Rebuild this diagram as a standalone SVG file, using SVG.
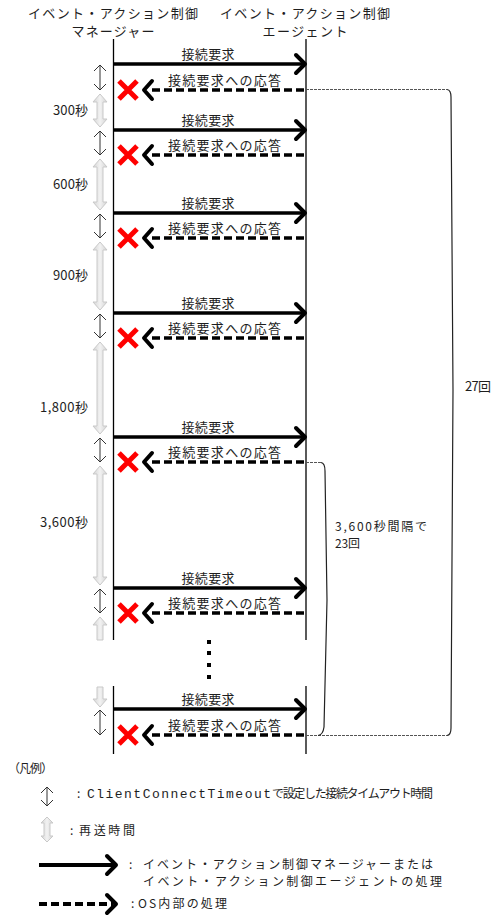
<svg xmlns="http://www.w3.org/2000/svg" width="496" height="917" viewBox="0 0 496 917">
<style>
.t{font-family:"Noto Sans CJK JP","Noto Sans",sans-serif;font-size:13px;fill:#1e1e1e}
.s{font-size:12px}
.m{font-family:"Liberation Mono","Noto Sans CJK JP",monospace}
.life{stroke:#000;stroke-width:1.3}
.sol{stroke:#000;stroke-width:3.5;fill:none}
.dash{stroke:#000;stroke-width:3.5;stroke-dasharray:8 4;fill:none}
.chev{stroke:#000;stroke-width:4;fill:none;stroke-linecap:round;stroke-linejoin:round}
.x{stroke:#f00;stroke-width:5;fill:none}
.to{stroke:#333;stroke-width:1;fill:none}
.gr{fill:url(#gg);stroke:#c9c9c9;stroke-width:1}
.dot{stroke:#555;stroke-width:1;stroke-dasharray:3 1;fill:none}
.brace{stroke:#222;stroke-width:1.2;fill:none}
</style>
<defs>
<linearGradient id="gg" x1="0" y1="0" x2="1" y2="0">
<stop offset="0" stop-color="#d4d4d4"/>
<stop offset="0.5" stop-color="#f2f2f2"/>
<stop offset="1" stop-color="#d4d4d4"/>
</linearGradient>
</defs>
<rect width="496" height="917" fill="#fff"/>

<g id="manager">
<text class="t" x="113" y="18" text-anchor="middle" textLength="170">イベント・アクション制御</text>
<text class="t" x="113" y="36" text-anchor="middle" textLength="83">マネージャー</text>
<line class="life" x1="113.5" y1="39" x2="113.5" y2="640"/>
<line class="life" x1="113.5" y1="686" x2="113.5" y2="754"/>
</g>
<g id="agent">
<text class="t" x="305" y="18" text-anchor="middle" textLength="170">イベント・アクション制御</text>
<text class="t" x="305" y="36" text-anchor="middle" textLength="85">エージェント</text>
<line class="life" x1="306" y1="39" x2="306" y2="640"/>
<line class="life" x1="306" y1="686" x2="306" y2="754"/>
</g>

<g id="connectors">
<g id="cycle1">
<line class="sol" x1="114" y1="64" x2="303" y2="64"/><polyline class="chev" points="296,55 305,64 296,73"/>
<text class="t" x="208" y="59" text-anchor="middle" textLength="53">接続要求</text>
<line class="dash" x1="304" y1="90" x2="148" y2="90"/><polyline class="chev" points="152,81 144,90 152,99"/>
<text class="t" x="224.5" y="85" text-anchor="middle" textLength="113">接続要求への応答</text>
<path class="x" d="M119,81 L137,99 M137,81 L119,99"/>
<path class="to" d="M100,65 V90 M94,71 L100,65 L106,71 M94,84 L100,90 L106,84"/>
</g>
<g id="cycle2">
<line class="sol" x1="114" y1="130" x2="303" y2="130"/><polyline class="chev" points="296,121 305,130 296,139"/>
<text class="t" x="208" y="125" text-anchor="middle" textLength="53">接続要求</text>
<line class="dash" x1="304" y1="155" x2="148" y2="155"/><polyline class="chev" points="152,146 144,155 152,164"/>
<text class="t" x="224.5" y="150" text-anchor="middle" textLength="113">接続要求への応答</text>
<path class="x" d="M119,146 L137,164 M137,146 L119,164"/>
<path class="to" d="M100,131 V155 M94,137 L100,131 L106,137 M94,149 L100,155 L106,149"/>
</g>
<g id="cycle3">
<line class="sol" x1="114" y1="213" x2="303" y2="213"/><polyline class="chev" points="296,204 305,213 296,222"/>
<text class="t" x="208" y="208" text-anchor="middle" textLength="53">接続要求</text>
<line class="dash" x1="304" y1="238" x2="148" y2="238"/><polyline class="chev" points="152,229 144,238 152,247"/>
<text class="t" x="224.5" y="233" text-anchor="middle" textLength="113">接続要求への応答</text>
<path class="x" d="M119,229 L137,247 M137,229 L119,247"/>
<path class="to" d="M100,214 V238 M94,220 L100,214 L106,220 M94,232 L100,238 L106,232"/>
</g>
<g id="cycle4">
<line class="sol" x1="114" y1="313" x2="303" y2="313"/><polyline class="chev" points="296,304 305,313 296,322"/>
<text class="t" x="208" y="308" text-anchor="middle" textLength="53">接続要求</text>
<line class="dash" x1="304" y1="338" x2="148" y2="338"/><polyline class="chev" points="152,329 144,338 152,347"/>
<text class="t" x="224.5" y="333" text-anchor="middle" textLength="113">接続要求への応答</text>
<path class="x" d="M119,329 L137,347 M137,329 L119,347"/>
<path class="to" d="M100,314 V338 M94,320 L100,314 L106,320 M94,332 L100,338 L106,332"/>
</g>
<g id="cycle5">
<line class="sol" x1="114" y1="437" x2="303" y2="437"/><polyline class="chev" points="296,428 305,437 296,446"/>
<text class="t" x="208" y="432" text-anchor="middle" textLength="53">接続要求</text>
<line class="dash" x1="304" y1="462" x2="148" y2="462"/><polyline class="chev" points="152,453 144,462 152,471"/>
<text class="t" x="224.5" y="457" text-anchor="middle" textLength="113">接続要求への応答</text>
<path class="x" d="M119,453 L137,471 M137,453 L119,471"/>
<path class="to" d="M100,438 V462 M94,444 L100,438 L106,444 M94,456 L100,462 L106,456"/>
</g>
<g id="cycle6">
<line class="sol" x1="114" y1="588" x2="303" y2="588"/><polyline class="chev" points="296,579 305,588 296,597"/>
<text class="t" x="208" y="583" text-anchor="middle" textLength="53">接続要求</text>
<line class="dash" x1="304" y1="613" x2="148" y2="613"/><polyline class="chev" points="152,604 144,613 152,622"/>
<text class="t" x="224.5" y="608" text-anchor="middle" textLength="113">接続要求への応答</text>
<path class="x" d="M119,604 L137,622 M137,604 L119,622"/>
<path class="to" d="M100,589 V613 M94,595 L100,589 L106,595 M94,607 L100,613 L106,607"/>
</g>
<g id="cycle7">
<line class="sol" x1="114" y1="709" x2="303" y2="709"/><polyline class="chev" points="296,700 305,709 296,718"/>
<text class="t" x="208" y="704" text-anchor="middle" textLength="53">接続要求</text>
<line class="dash" x1="304" y1="735" x2="148" y2="735"/><polyline class="chev" points="152,726 144,735 152,744"/>
<text class="t" x="224.5" y="730" text-anchor="middle" textLength="113">接続要求への応答</text>
<path class="x" d="M119,726 L137,744 M137,726 L119,744"/>
<path class="to" d="M100,710 V735 M94,716 L100,710 L106,716 M94,729 L100,735 L106,729"/>
</g>
</g>

<g id="retries">
<path class="gr" d="M100,94 L107,102 L103,102 L103,119 L107,119 L100,127 L93,119 L97,119 L97,102 L93,102 Z"/>
<text class="t" x="88" y="115" text-anchor="end" textLength="35">300秒</text>
<path class="gr" d="M100,159 L107,167 L103,167 L103,202 L107,202 L100,210 L93,202 L97,202 L97,167 L93,167 Z"/>
<text class="t" x="88" y="189" text-anchor="end" textLength="35">600秒</text>
<path class="gr" d="M100,242 L107,250 L103,250 L103,302 L107,302 L100,310 L93,302 L97,302 L97,250 L93,250 Z"/>
<text class="t" x="88" y="280" text-anchor="end" textLength="35">900秒</text>
<path class="gr" d="M100,342 L107,350 L103,350 L103,426 L107,426 L100,434 L93,426 L97,426 L97,350 L93,350 Z"/>
<text class="t" x="88" y="412" text-anchor="end" textLength="48">1,800秒</text>
<path class="gr" d="M100,466 L107,474 L103,474 L103,577 L107,577 L100,585 L93,577 L97,577 L97,474 L93,474 Z"/>
<text class="t" x="88" y="527" text-anchor="end" textLength="48">3,600秒</text>
<path class="gr" d="M100,617 L107,625 L103,625 L103,640 L97,640 L97,625 L93,625 Z"/>
<path class="gr" d="M97,687 L103,687 L103,699 L107,699 L100,707 L93,699 L97,699 Z"/>
</g>

<g id="ellipsis" fill="#000">
<rect x="207" y="640" width="4" height="4"/>
<rect x="207" y="651" width="4" height="4"/>
<rect x="207" y="663" width="4" height="4"/>
<rect x="207" y="675" width="4" height="4"/>
</g>

<g id="brace-total">
<path class="dot" d="M306,89.5 H447 M306,735.5 H447"/>
<path class="brace" d="M447,89.5 Q451,90 451,97 L453,390 L451,728 Q451,735 447,735.5"/>
<text class="t" x="465" y="391" textLength="26">27回</text>
</g>
<g id="brace-23">
<path class="dot" d="M306,462.5 H321"/>
<path class="brace" d="M321,462.5 Q325,463 325,471 L327,600 L324,727 Q323,735 318,735.5"/>
<text class="t s" x="335" y="531" textLength="92">3,600秒間隔で</text>
<text class="t s" x="335" y="548" textLength="25">23回</text>
</g>

<g id="legend">
<text class="t s" x="8" y="773" textLength="45">（凡例）</text>
<path class="to" d="M47,787 V806 M41,793 L47,787 L53,793 M41,800 L47,806 L53,800"/>
<text class="t s" x="77" y="798">:</text>
<text class="t m" x="87" y="798" textLength="184">ClientConnectTimeout</text>
<text class="t s" x="272" y="798" textLength="161">で設定した接続タイムアウト時間</text>
<path class="gr" d="M47,817 L53,823 L50,823 L50,836 L53,836 L47,842 L41,836 L44,836 L44,823 L41,823 Z"/>
<text class="t s" x="70" y="835">:</text>
<text class="t s" x="79" y="835" textLength="56">再送時間</text>
<line class="sol" x1="39" y1="865" x2="114" y2="865" style="stroke-width:4"/>
<polyline class="chev" points="107,856 116,865 107,874"/>
<text class="t s" x="129" y="869">:</text>
<text class="t s" x="143" y="869" textLength="290">イベント・アクション制御マネージャーまたは</text>
<text class="t s" x="143" y="886" textLength="299">イベント・アクション制御エージェントの処理</text>
<line class="dash" x1="39" y1="904" x2="113" y2="904" style="stroke-width:4"/>
<polyline class="chev" points="107,895 116,904 107,913"/>
<text class="t s" x="131" y="908">:</text>
<text class="t s" x="138" y="908" textLength="89">OS内部の処理</text>
</g>
</svg>
